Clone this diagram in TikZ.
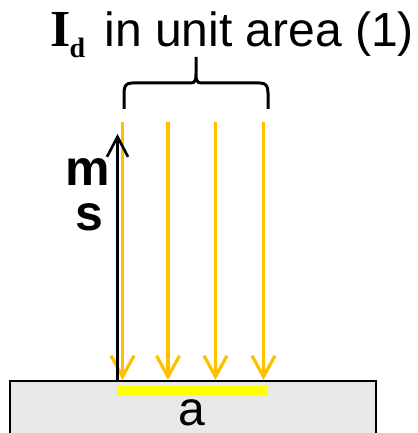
\documentclass[tikz,border=0pt]{standalone}
\usepackage{fontspec}
\setmainfont{Liberation Sans}
\newfontfamily\serifbold{Liberation Serif}
\usepackage{tikz}
\usetikzlibrary{arrows.meta}
\definecolor{cgold}{HTML}{FFC000}
\definecolor{cyellow}{HTML}{FFFF00}
\definecolor{slabgray}{HTML}{E8E8E8}

\begin{document}
\begin{tikzpicture}[x=0.5pt, y=-0.5pt]
  \useasboundingbox (0,0) rectangle (417,433);
  % surface
  \fill[slabgray, draw=black, line width=1.25pt] (10,381) rectangle (376,445);
  \fill[cyellow] (117,386) rectangle (267,395);
  \node[font=\fontsize{24}{28}\selectfont, anchor=base, inner sep=0] (a) at (192,425) {a};
  % incoming rays
  \foreach \x [count=\i] in {122.5,168,215.5,263.5}{
    \coordinate (src\i) at (\x,122);
    \coordinate (dst\i) at (\x,380);
    \draw[cgold, line width=1.6pt, -{Straight Barb[length=10.5pt,width=11.5pt]}] (src\i) -- (dst\i);
  }
  \coordinate (mfoot) at (117.5,381);
  \coordinate (mtip) at (117.5,134);
  \draw[line width=1.3pt, -{Straight Barb[length=10pt,width=10.5pt]}] (mfoot) -- (mtip);
  \node[font=\bfseries\fontsize{25}{26}\selectfont, anchor=base, inner sep=0] (m) at (87.5,185) {m};
  \node[font=\bfseries\fontsize{25}{26}\selectfont, anchor=base, inner sep=0] (s) at (89.5,230) {s};
  % brace and label
  \draw[line width=1.5pt, line join=round]
    (124,109) -- (124,93) .. controls (124,86) and (126,83) .. (132,83) -- (191,83)
    .. controls (195,83) and (196,80) .. (196,74) -- (196,57)
    (196,74) .. controls (196,80) and (197,83) .. (201,83) -- (260,83)
    .. controls (266,83) and (268,86) .. (268,93) -- (268,109);
  \node[anchor=base west, inner sep=0] (Id) at (50,47)
    {\serifbold\bfseries\fontsize{26}{30}\selectfont I\kern-0.5pt\raisebox{-5.5pt}{\fontsize{14}{16}\selectfont d}};
  \node[font=\fontsize{24}{28}\selectfont, anchor=base west, inner sep=0] (title) at (104,47) {in unit area (1)};
\end{tikzpicture}
\end{document}
